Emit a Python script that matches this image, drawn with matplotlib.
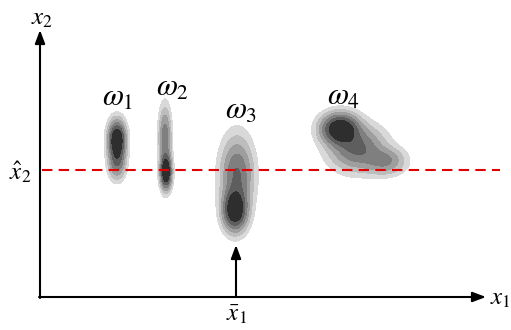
import numpy as np
import matplotlib
matplotlib.use("Agg")
import matplotlib.pyplot as plt

plt.rcParams["mathtext.fontset"] = "stix"

# class densities: each blob is a few gaussian components (cx, cy, sx, sy, weight)
blobs = {
    "1": [(117, 140, 5.0, 11, 1.0), (117, 162, 5.0, 10, 0.4)],
    "2": [(166, 172, 3.2, 10, 1.0), (165, 138, 3.6, 18, 0.4)],
    "3": [(235, 210, 7.0, 12, 1.0), (237, 175, 9.5, 22, 0.5)],
    "4": [(340, 129, 11, 9, 1.0), (357, 148, 16, 13, 0.5),
          (385, 161, 12, 8, 0.32)],
}
label_pos = {"1": (118, 97), "2": (173, 87), "3": (241, 110), "4": (344, 96)}

x_hat2 = 170   # dashed threshold line (pixel row)
x_bar1 = 236   # arrow position on x1 axis

levels = [0.035, 0.09, 0.17, 0.28, 0.42, 0.6, 1.01]
grays = ["#d9d9d9", "#bdbdbd", "#9e9e9e", "#7f7f7f", "#5e5e5e", "#2e2e2e"]

fig = plt.figure(figsize=(5.11, 3.30), dpi=100)
ax = fig.add_axes([0, 0, 1, 1])
ax.set_xlim(0, 511)
ax.set_ylim(330, 0)
ax.axis("off")

gx, gy = np.meshgrid(np.linspace(0, 511, 700), np.linspace(0, 330, 460))
for key, comps in blobs.items():
    z = np.zeros_like(gx)
    for cx, cy, sx, sy, w in comps:
        z += w * np.exp(-0.5 * (((gx - cx) / sx) ** 2 + ((gy - cy) / sy) ** 2))
    z /= z.max()
    ax.contourf(gx, gy, z, levels=levels, colors=grays, zorder=1)
    lx, ly = label_pos[key]
    ax.text(lx, ly, r"$\omega_{%s}$" % key, fontsize=22,
            ha="center", va="center", zorder=3)

arrow = dict(arrowstyle="-|>,head_length=0.8,head_width=0.3", lw=1.5,
             color="black", shrinkA=0, shrinkB=0)
ax.annotate("", xy=(40, 30), xytext=(40, 298), arrowprops=arrow, zorder=2)
ax.annotate("", xy=(486, 297), xytext=(39, 297), arrowprops=arrow, zorder=2)
ax.annotate("", xy=(x_bar1, 245), xytext=(x_bar1, 297), arrowprops=arrow, zorder=2)

ax.plot([42, 500], [x_hat2, x_hat2], color="#e00000", lw=1.5,
        linestyle=(0, (5, 3)), zorder=4)

ax.text(42, 18, r"$x_{2}$", fontsize=18, ha="center", va="center")
ax.text(500, 298, r"$x_{1}$", fontsize=18, ha="center", va="center")
ax.text(20, 172, r"$\hat{x}_{2}$", fontsize=18, ha="center", va="center")
ax.text(x_bar1 + 1, 314, r"$\bar{x}_{1}$", fontsize=18, ha="center", va="center")

fig.savefig("out.png", dpi=100)
